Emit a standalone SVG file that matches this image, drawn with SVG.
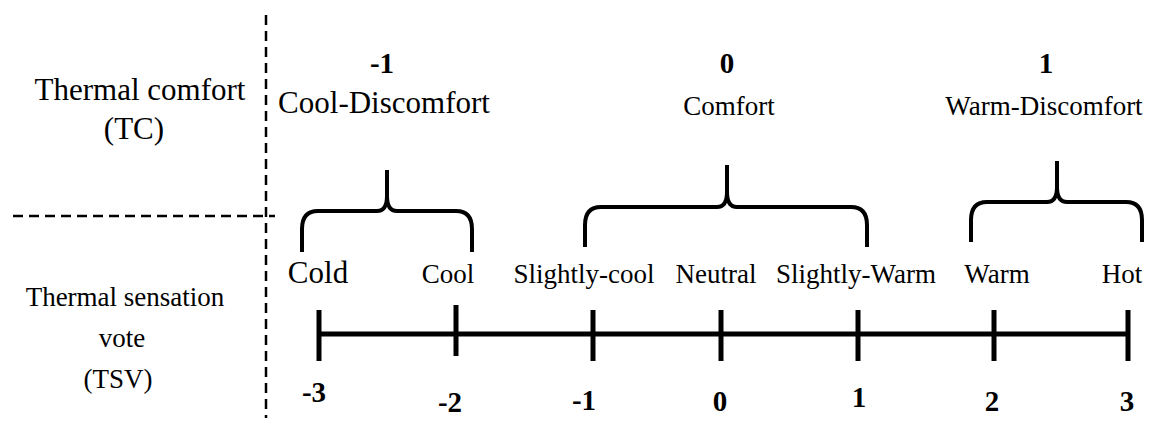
<svg xmlns="http://www.w3.org/2000/svg" width="1157" height="425" viewBox="0 0 1157 425">
<style>
text{font-family:'Liberation Serif','Times New Roman',Tinos,'DejaVu Serif',serif;fill:#000;text-anchor:middle}
.big{font-size:31px}
.mid{font-size:27px}
.num{font-size:29px;font-weight:bold}
.dash{stroke:#000;stroke-width:2.5;stroke-dasharray:10 6;fill:none}
.brace{stroke:#000;stroke-width:4;fill:none;stroke-linecap:butt;stroke-linejoin:round}
.axis{stroke:#000;stroke-width:5;fill:none}
</style>
<rect width="1157" height="425" fill="#fff"/>
<g id="dividers">
<line class="dash" x1="266" y1="15" x2="266" y2="418"/>
<line class="dash" x1="13" y1="216" x2="275" y2="216"/>
</g>
<g id="row-headers">
<text class="big" x="140" y="100" font-family="Liberation Serif">Thermal comfort</text>
<text class="big" x="134" y="139">(TC)</text>
<text class="mid" x="125" y="306">Thermal sensation</text>
<text class="mid" x="122" y="347">vote</text>
<text class="mid" x="118" y="388">(TSV)</text>
</g>
<g id="tc-labels">
<text class="num" x="382" y="73">-1</text>
<text class="big" x="384" y="113">Cool-Discomfort</text>
<text class="num" x="727" y="73">0</text>
<text class="mid" x="729" y="115">Comfort</text>
<text class="num" x="1046" y="73">1</text>
<text class="mid" x="1044" y="115">Warm-Discomfort</text>
</g>
<g id="braces">
<path class="brace" d="M302,252 L302,229 Q302,211 318,211 L377,211 Q387,211 387,196 L387,170 M387,196 Q387,211 397,211 L456,211 Q472,211 472,229 L472,252"/>
<path class="brace" d="M585,247 L585,225 Q585,207 601,207 L717,207 Q727,207 727,192 L727,165 M727,192 Q727,207 737,207 L851,207 Q867,207 867,225 L867,247"/>
<path class="brace" d="M971,242 L971,220 Q971,202 987,202 L1047,202 Q1057,202 1057,187 L1057,161 M1057,187 Q1057,202 1067,202 L1126,202 Q1142,202 1142,220 L1142,242"/>
</g>
<g id="tsv-labels">
<text class="big" x="318" y="283">Cold</text>
<text class="mid" x="448" y="283">Cool</text>
<text class="mid" x="584" y="283">Slightly-cool</text>
<text class="mid" x="716" y="283">Neutral</text>
<text class="mid" x="856" y="283">Slightly-Warm</text>
<text class="mid" x="997" y="283">Warm</text>
<text class="mid" x="1122" y="283">Hot</text>
</g>
<g id="axis">
<line class="axis" x1="319" y1="334" x2="1128" y2="334"/>
<line class="axis" x1="319" y1="310" x2="319" y2="361"/>
<line class="axis" x1="456" y1="305" x2="456" y2="356"/>
<line class="axis" x1="593" y1="310" x2="593" y2="361"/>
<line class="axis" x1="721" y1="310" x2="721" y2="361"/>
<line class="axis" x1="858" y1="310" x2="858" y2="361"/>
<line class="axis" x1="994" y1="310" x2="994" y2="361"/>
<line class="axis" x1="1128" y1="310" x2="1128" y2="361"/>
</g>
<g id="tsv-values">
<text class="num" x="314" y="402">-3</text>
<text class="num" x="450" y="412">-2</text>
<text class="num" x="584" y="410">-1</text>
<text class="num" x="720" y="411">0</text>
<text class="num" x="859" y="407">1</text>
<text class="num" x="992" y="411">2</text>
<text class="num" x="1127" y="411">3</text>
</g>
</svg>
